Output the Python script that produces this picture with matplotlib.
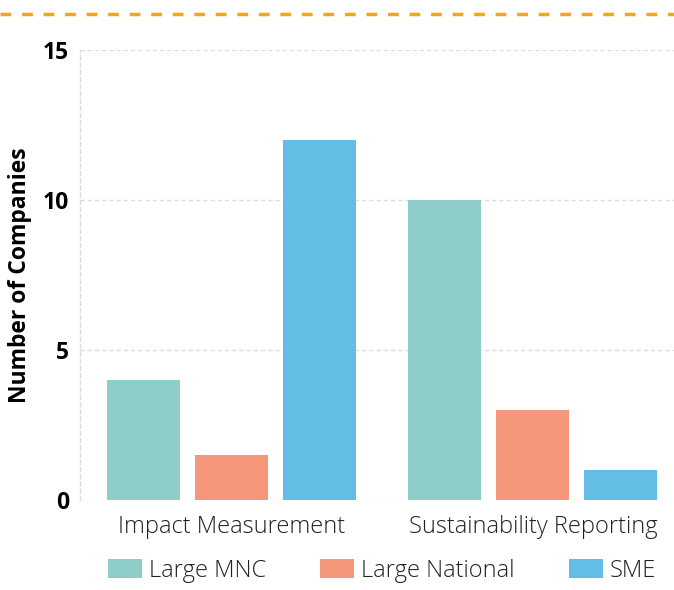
import numpy as np
import matplotlib.pyplot as plt
from matplotlib.lines import Line2D

categories = ['Impact Measurement', 'Sustainability Reporting']
series_names = ['Large MNC', 'Large National', 'SME']
large_mnc = [4, 10]
large_national = [1.5, 3]
sme = [12, 1]
colors = ['#8fcdc8', '#f4977a', '#63bde5']

plt.rcParams['font.family'] = ['Open Sans', 'DejaVu Sans']

fig = plt.figure(figsize=(6.74, 5.9), dpi=100)
ax = fig.add_axes([80/674, 90/590, 594/674, 450/590])

x = np.arange(len(categories))
w = 0.242
off = 0.292
for i, (vals, name) in enumerate(zip([large_mnc, large_national, sme], series_names)):
    ax.bar(x + (i - 1) * off, vals, width=w, color=colors[i], label=name, zorder=3)

ax.set_xlim(-0.502, 1.468)
ax.set_ylim(0, 15)
ax.set_yticks([0, 5, 10, 15])
ax.set_xticks(x)
ax.set_xticklabels(categories, fontsize=17, fontweight='light', color='#222222')
for t in ax.get_yticklabels():
    t.set_fontweight('bold')
    t.set_fontsize(16.5)
ax.tick_params(axis='both', length=0)
ax.tick_params(axis='y', pad=8)
ax.tick_params(axis='x', pad=11)
ax.set_ylabel('Number of Companies', fontsize=16.5, fontweight='bold', labelpad=8)

ax.grid(axis='y', color='#dddddd', linestyle=(0, (3, 2.2)), linewidth=1, zorder=0)
for s in ['top', 'right', 'bottom']:
    ax.spines[s].set_visible(False)
ax.spines['left'].set_color('#dddddd')
ax.spines['left'].set_linestyle((0, (3, 2.2)))
ax.spines['left'].set_linewidth(1)

leg = ax.legend(loc='center left', bbox_to_anchor=(108/674, 19/590, 548/674, 0),
                bbox_transform=fig.transFigure, ncol=3, mode='expand', frameon=False,
                handlelength=1.44, handleheight=0.85, handletextpad=0.3,
                borderaxespad=0, borderpad=0, prop={'size': 17, 'weight': 'light'})
for t in leg.get_texts():
    t.set_color('#222222')

fig.add_artist(Line2D([0, 1], [1 - 14/590, 1 - 14/590], transform=fig.transFigure,
                      color='#f0a818', linewidth=2.5, linestyle=(0, (3.1, 3.1))))

plt.savefig('out.png', dpi=100)
